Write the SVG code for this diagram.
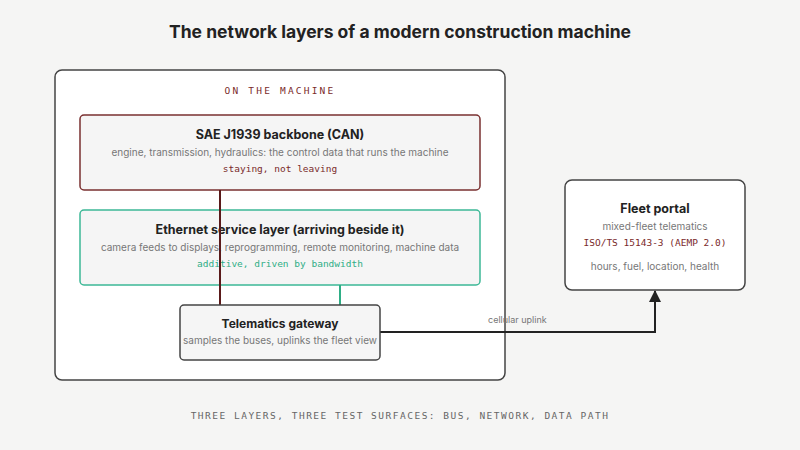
<svg xmlns="http://www.w3.org/2000/svg" width="800" height="450" viewBox="0 0 800 450">
<style>
.t{font-family:Inter,"Noto Sans",sans-serif;fill:#222}
.h{font-family:Inter,"Noto Sans",sans-serif;font-weight:700;fill:#222;text-anchor:middle}
.s{font-family:Inter,"Noto Sans",sans-serif;font-size:10px;fill:#777;text-anchor:middle}
.m{font-family:"DejaVu Sans Mono","Liberation Mono",monospace;font-size:9.5px;text-anchor:middle}
.box{fill:#f5f5f5;stroke-width:1.5}
</style>
<defs><marker id="ar" markerWidth="12" markerHeight="12" refX="11" refY="6" orient="auto" markerUnits="userSpaceOnUse"><path d="M0,0 L12,6 L0,12 Z" fill="#222"/></marker></defs>
<rect width="800" height="450" fill="#f5f5f4"/>
<text x="400" y="38" class="h" font-size="17.5">The network layers of a modern construction machine</text>
<g id="machine"><rect x="55" y="70" width="450" height="310" rx="7" fill="#fff" stroke="#444" stroke-width="1.5"/>
<text x="280" y="94" class="m" font-size="10.5" fill="#7a2a2a" letter-spacing="2.2">ON THE MACHINE</text></g>
<g id="can"><rect x="80" y="115" width="400" height="75" rx="4" class="box" stroke="#7a3030"/>
<text x="280" y="139" class="h" font-size="12.5">SAE J1939 backbone (CAN)</text>
<text x="280" y="156" class="s" font-size="9.7">engine, transmission, hydraulics: the control data that runs the machine</text>
<text x="280" y="172" class="m" fill="#7a2a2a">staying, not leaving</text></g>
<g id="eth"><rect x="80" y="210" width="400" height="75" rx="4" class="box" stroke="#3cb896"/>
<text x="280" y="234" class="h" font-size="12.5">Ethernet service layer (arriving beside it)</text>
<text x="280" y="251" class="s" font-size="9.7">camera feeds to displays, reprogramming, remote monitoring, machine data</text>
<text x="280" y="267" class="m" fill="#2fae86">additive, driven by bandwidth</text></g>
<g id="connectors" fill="none">
<line x1="220" y1="190" x2="220" y2="305" stroke="#5a1a1a" stroke-width="2"/>
<line x1="340" y1="285" x2="340" y2="305" stroke="#2fae86" stroke-width="2"/>
<path d="M380,332 H655 V291" stroke="#222" stroke-width="2" marker-end="url(#ar)"/>
<text x="488" y="323" class="t" font-size="9" style="fill:#777">cellular uplink</text>
</g>
<g id="gateway"><rect x="180" y="305" width="200" height="55" rx="4" class="box" stroke="#444"/>
<text x="280" y="328" class="h" font-size="12">Telematics gateway</text>
<text x="280" y="344" class="s" font-size="9.3">samples the buses, uplinks the fleet view</text></g>
<g id="fleet"><rect x="565" y="180" width="180" height="110" rx="7" fill="#fff" stroke="#444" stroke-width="1.5"/>
<text x="655" y="213" class="h" font-size="12.5">Fleet portal</text>
<text x="655" y="230" class="s" font-size="9.7">mixed-fleet telematics</text>
<text x="655" y="246" class="m" font-size="9.5" fill="#7a2a2a">ISO/TS 15143-3 (AEMP 2.0)</text>
<text x="655" y="270" class="s" font-size="9">hours, fuel, location, health</text></g>
<text x="400" y="419" class="m" font-size="10" fill="#666" letter-spacing="1.5">THREE LAYERS, THREE TEST SURFACES: BUS, NETWORK, DATA PATH</text>
</svg>
